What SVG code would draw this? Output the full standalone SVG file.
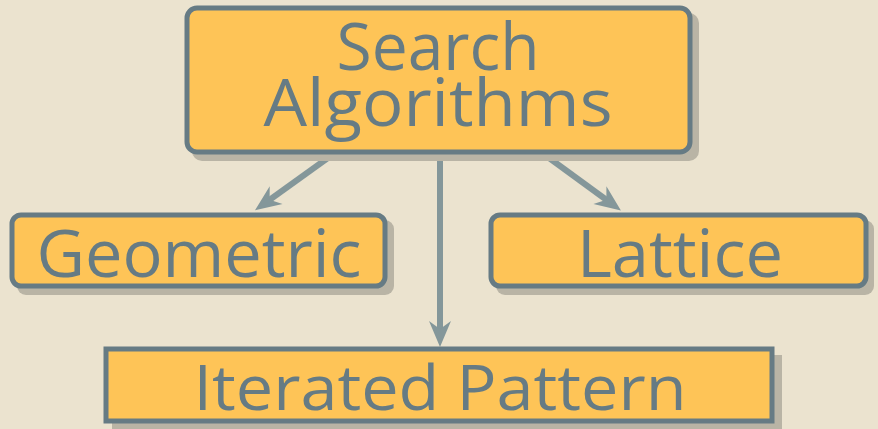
<svg xmlns="http://www.w3.org/2000/svg" width="878" height="429" viewBox="0 0 878 429">
<style>
.shadow{fill:#b9b4a5}
.box{fill:#fec457;stroke:#667b84;stroke-width:5}
.lbl{font-family:"Open Sans","Noto Sans",sans-serif;fill:#667b84;text-anchor:middle}
.edge{stroke:#84979a;stroke-width:6;fill:none}
</style>
<defs>
<marker id="arr" markerUnits="userSpaceOnUse" markerWidth="30" markerHeight="30" viewBox="-2 -13 30 26" refX="10" refY="0" orient="auto">
<path d="M26,0 L0,-11 L8,0 L0,11 Z" fill="#84979a"/>
</marker>
</defs>
<rect width="878" height="429" fill="#ebe3cf"/>
<g id="edges">
<line class="edge" x1="332" y1="155" x2="268" y2="201" marker-end="url(#arr)"/>
<line class="edge" x1="440" y1="155" x2="440" y2="331" marker-end="url(#arr)"/>
<line class="edge" x1="545" y1="155" x2="608" y2="201" marker-end="url(#arr)"/>
</g>
<g id="search">
<rect class="shadow" x="192" y="13" width="507" height="148" rx="10"/>
<rect class="box" x="187" y="8" width="503" height="144" rx="10"/>
<text class="lbl" x="438" y="70" font-size="66" textLength="203" lengthAdjust="spacingAndGlyphs">Search</text>
<text class="lbl" x="438" y="126" font-size="66" textLength="349" lengthAdjust="spacingAndGlyphs">Algorithms</text>
</g>
<g id="geometric">
<rect class="shadow" x="17" y="220" width="377" height="75" rx="9"/>
<rect class="box" x="12" y="215" width="373" height="71" rx="9"/>
<text class="lbl" x="199" y="277" font-size="66" textLength="325" lengthAdjust="spacingAndGlyphs">Geometric</text>
</g>
<g id="lattice">
<rect class="shadow" x="496" y="220" width="378" height="75" rx="9"/>
<rect class="box" x="491" y="215" width="375" height="71" rx="9"/>
<text class="lbl" x="680" y="277" font-size="66" textLength="206" lengthAdjust="spacingAndGlyphs">Lattice</text>
</g>
<g id="iterated">
<rect class="shadow" x="112" y="355" width="670" height="76"/>
<rect class="box" x="106" y="349" width="666" height="72"/>
<text class="lbl" x="440" y="410" font-size="62" textLength="493" lengthAdjust="spacingAndGlyphs">Iterated Pattern</text>
</g>
</svg>
